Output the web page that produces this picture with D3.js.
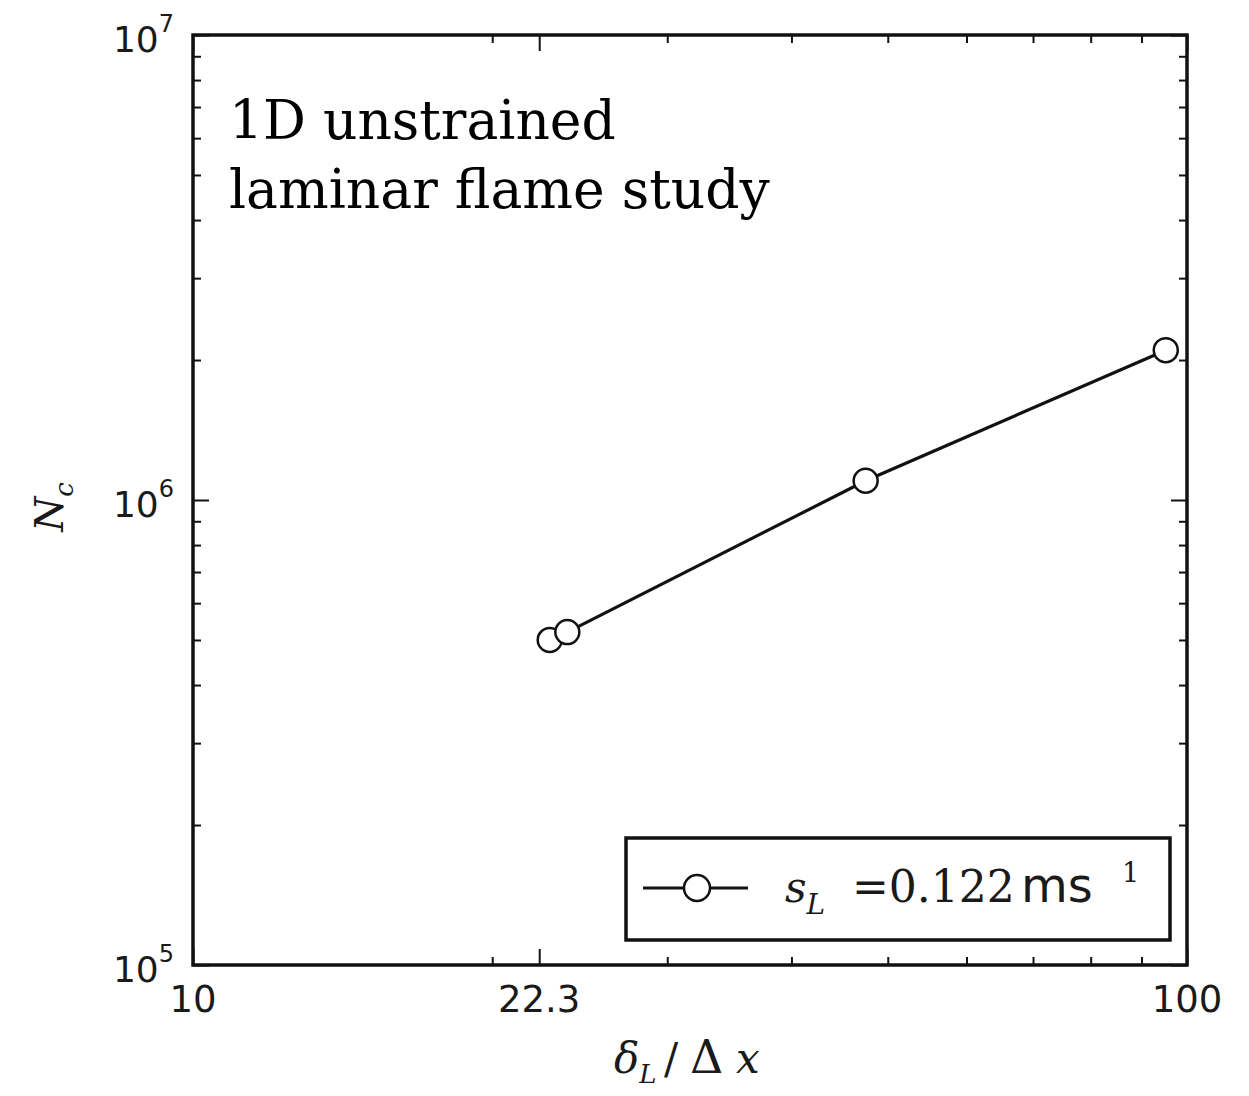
<!DOCTYPE html>
<html>
<head>
<meta charset="utf-8">
<script src="https://cdn.jsdelivr.net/npm/d3@7"></script>
<style>
  html, body { margin: 0; padding: 0; background: #fff; }
  svg { display: block; }
</style>
</head>
<body>
<svg id="chart" width="1249" height="1096"></svg>
<script>
// Resolution study: critical count vs. flame thickness over grid spacing
const deltaOverDx = [22.85, 23.8, 47.5, 95.2];
const nCritical   = [5.0e5, 5.2e5, 1.10e6, 2.10e6];

const xMajorTicks  = [10, 22.3, 100];
const xTickLabels  = ["10", "22.3", "100"];
const xMinorTicks  = [20, 30, 40, 50, 60, 70, 80, 90];
const yMajorTicks  = [1e5, 1e6, 1e7];
const yTickExps    = ["5", "6", "7"];
const yMinorTicks  = [2e5, 3e5, 4e5, 5e5, 6e5, 7e5, 8e5, 9e5,
                      2e6, 3e6, 4e6, 5e6, 6e6, 7e6, 8e6, 9e6];

const svg = d3.select("#chart");
const L = 193, R = 1187, T = 35, B = 965;

const x = d3.scaleLog().domain([10, 100]).range([L, R]);
const y = d3.scaleLog().domain([1e5, 1e7]).range([B, T]);

const tickStyle = g => {
  g.select(".domain").remove();
  g.selectAll(".tick text").remove();
  g.selectAll(".tick line").attr("stroke", "#111").attr("stroke-width", 2);
};

// inward ticks on all four sides
const majorLen = 16, minorLen = 8;
svg.append("g").attr("transform", `translate(0,${B})`)
  .call(d3.axisBottom(x).tickValues(xMajorTicks).tickSizeInner(-majorLen).tickSizeOuter(0)).call(tickStyle);
svg.append("g").attr("transform", `translate(0,${B})`)
  .call(d3.axisBottom(x).tickValues(xMinorTicks).tickSizeInner(-minorLen).tickSizeOuter(0)).call(tickStyle);
svg.append("g").attr("transform", `translate(0,${T})`)
  .call(d3.axisTop(x).tickValues(xMajorTicks).tickSizeInner(-majorLen).tickSizeOuter(0)).call(tickStyle);
svg.append("g").attr("transform", `translate(0,${T})`)
  .call(d3.axisTop(x).tickValues(xMinorTicks).tickSizeInner(-minorLen).tickSizeOuter(0)).call(tickStyle);
svg.append("g").attr("transform", `translate(${L},0)`)
  .call(d3.axisLeft(y).tickValues(yMajorTicks).tickSizeInner(-majorLen).tickSizeOuter(0)).call(tickStyle);
svg.append("g").attr("transform", `translate(${L},0)`)
  .call(d3.axisLeft(y).tickValues(yMinorTicks).tickSizeInner(-minorLen).tickSizeOuter(0)).call(tickStyle);
svg.append("g").attr("transform", `translate(${R},0)`)
  .call(d3.axisRight(y).tickValues(yMajorTicks).tickSizeInner(-majorLen).tickSizeOuter(0)).call(tickStyle);
svg.append("g").attr("transform", `translate(${R},0)`)
  .call(d3.axisRight(y).tickValues(yMinorTicks).tickSizeInner(-minorLen).tickSizeOuter(0)).call(tickStyle);

// frame
svg.append("rect")
  .attr("x", L).attr("y", T).attr("width", R - L).attr("height", B - T)
  .attr("fill", "none").attr("stroke", "#111").attr("stroke-width", 3.5);

// x tick labels
svg.append("g").selectAll("text").data(xMajorTicks).join("text")
  .attr("x", d => x(d)).attr("y", 1012)
  .attr("text-anchor", "middle")
  .attr("font-family", "DejaVu Sans").attr("font-size", 37).attr("fill", "#1a1a1a")
  .text((d, i) => xTickLabels[i]);

// y tick labels as powers of ten
const yLab = svg.append("g").selectAll("text").data(yMajorTicks).join("text")
  .attr("x", 174).attr("y", d => y(d) + 17)
  .attr("text-anchor", "end")
  .attr("font-family", "DejaVu Sans").attr("font-size", 36).attr("fill", "#1a1a1a");
yLab.append("tspan").text("10");
yLab.append("tspan").attr("dy", -20).attr("font-size", 24).text((d, i) => yTickExps[i]);

// data line and markers
const line = d3.line().x(d => x(d[0])).y(d => y(d[1]));
const pts = deltaOverDx.map((v, i) => [v, nCritical[i]]);
svg.append("path").datum(pts)
  .attr("d", line).attr("fill", "none").attr("stroke", "#111").attr("stroke-width", 3.2);
svg.append("g").selectAll("circle").data(pts).join("circle")
  .attr("cx", d => x(d[0])).attr("cy", d => y(d[1])).attr("r", 12)
  .attr("fill", "#fff").attr("stroke", "#111").attr("stroke-width", 2.5);

// annotation
const note = svg.append("text")
  .attr("font-family", "DejaVu Serif").attr("font-size", 53.5).attr("fill", "#000");
note.append("tspan").attr("x", 229).attr("y", 139).text("1D unstrained");
note.append("tspan").attr("x", 229).attr("y", 208).text("laminar flame study");

// legend
const lg = svg.append("g");
lg.append("rect").attr("x", 626).attr("y", 838).attr("width", 544).attr("height", 102)
  .attr("fill", "#fff").attr("stroke", "#111").attr("stroke-width", 3.5);
lg.append("line").attr("x1", 643).attr("x2", 748).attr("y1", 888).attr("y2", 888)
  .attr("stroke", "#111").attr("stroke-width", 3);
lg.append("circle").attr("cx", 697).attr("cy", 888).attr("r", 13)
  .attr("fill", "#fff").attr("stroke", "#111").attr("stroke-width", 2.5);
const lt = lg.append("text").attr("y", 902).attr("fill", "#1a1a1a").attr("font-size", 42);
lt.append("tspan").attr("x", 785).attr("font-family", "DejaVu Serif").attr("font-style", "italic").text("s");
lt.append("tspan").attr("dy", 12).attr("font-size", 28).attr("font-family", "DejaVu Serif").attr("font-style", "italic").text("L");
lt.append("tspan").attr("x", 852).attr("dy", -12).attr("font-family", "DejaVu Serif").attr("font-size", 44).text("=0.122");
lt.append("tspan").attr("x", 1021).attr("font-family", "DejaVu Sans").attr("font-size", 48).text("ms");
lt.append("tspan").attr("x", 1122).attr("dy", -20).attr("font-size", 27).attr("font-family", "DejaVu Serif").text("1");

// axis titles
const xt = svg.append("text").attr("y", 1073).attr("fill", "#1a1a1a")
  .attr("font-family", "DejaVu Serif").attr("font-size", 42);
xt.append("tspan").attr("x", 614).attr("font-style", "italic").text("δ");
xt.append("tspan").attr("dy", 10).attr("font-size", 26).attr("font-style", "italic").text("L");
xt.append("tspan").attr("x", 664).attr("dy", -10).text("/");
xt.append("tspan").attr("x", 690).attr("font-size", 46).text("Δ");
xt.append("tspan").attr("x", 736).attr("font-style", "italic").text("x");

const yt = svg.append("text")
  .attr("transform", "translate(63,507) rotate(-90)")
  .attr("text-anchor", "middle").attr("fill", "#1a1a1a")
  .attr("font-family", "DejaVu Serif").attr("font-size", 40);
yt.append("tspan").attr("font-style", "italic").text("N");
yt.append("tspan").attr("dy", 10).attr("font-size", 26).attr("font-style", "italic").text("c");
</script>
</body>
</html>
